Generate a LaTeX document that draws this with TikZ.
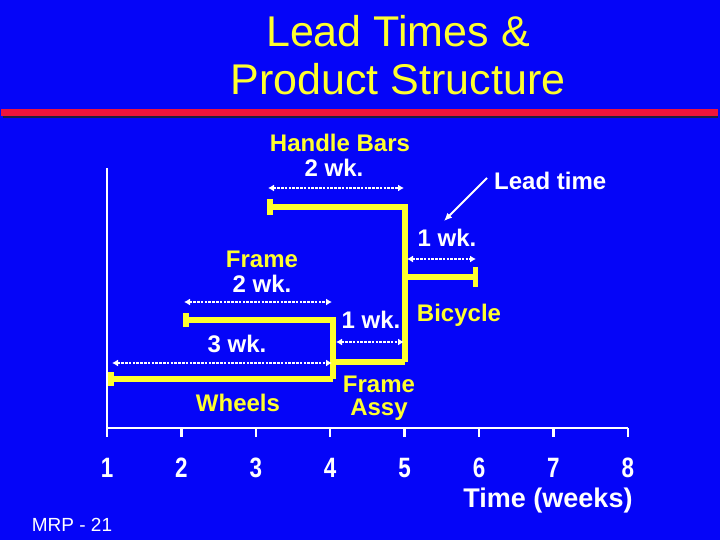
\documentclass[tikz,border=0pt]{standalone}
\usepackage{fontspec}
\setmainfont{Liberation Sans}
\newfontfamily\numfont[FakeStretch=0.8]{Liberation Sans}
\usepackage{tikz}
\usetikzlibrary{arrows.meta, positioning, calc}
\usepackage{xcolor}
\definecolor{SlideBlue}{HTML}{0505F8}
\definecolor{SlideYellow}{HTML}{FFFF2E}
\definecolor{SlideRed}{HTML}{F0143C}
\definecolor{ShadowGrey}{HTML}{202040}
\tikzset{
  % Slide title
  titletext/.style={
    text=SlideYellow, inner sep=0pt,
    font=\fontsize{43}{49}\selectfont
  },
  % Item name (yellow)
  partlabel/.style={
    text=SlideYellow, inner sep=0pt,
    font=\fontsize{24}{26}\selectfont\bfseries
  },
  % Lead time text (white)
  timelabel/.style={
    text=white, inner sep=0pt,
    font=\fontsize{24}{26}\selectfont\bfseries
  },
  % Product structure line
  leadbar/.style={
    draw=SlideYellow, line width=5.5pt, line join=miter
  },
  % Lead time span
  leadarrow/.style={
    draw=white, line width=2pt,
    dash pattern=on 2.5pt off 1.3pt,
    {Latex[length=6pt,width=7pt]}-{Latex[length=6pt,width=7pt]}
  },
  % Time axis
  axisline/.style={
    draw=white, line width=2.5pt
  },
  weeknum/.style={
    text=white, inner sep=0pt,
    font=\fontsize{28}{30}\selectfont\numfont\bfseries
  }
}
\begin{document}
\begin{tikzpicture}[x=1pt, y=-1pt]

\fill[SlideBlue] (0,0) rectangle (720,540);
\useasboundingbox (0,0) rectangle (720,540);

% title and red rule
\node[titletext, anchor=base] (title_a) at (398,47) {Lead Times \&};
\node[titletext, anchor=base] (title_b) at (398,95) {Product Structure};
\coordinate (rule_l) at (1,113);
\coordinate (rule_r) at (718,113);
\draw[ShadowGrey, line width=7pt] ($(rule_l)+(2,2)$) -- ($(rule_r)+(0,2)$);
\draw[SlideRed, line width=7pt] (rule_l) -- (rule_r);

% time axis
\coordinate (ax_top)    at (107,168);
\coordinate (ax_origin) at (107,428);
\coordinate (ax_end)    at (628,428);
\draw[axisline] (ax_top) -- (ax_origin) -- (ax_end);
\foreach \wk in {1,...,8} {
  \coordinate (tick_\wk) at ({107+(\wk-1)*74.4},428);
  \draw[axisline] (tick_\wk) -- ++(0,9);
  \node[weeknum, anchor=base] (wk_\wk) at ({107+(\wk-1)*74.4},477) {\wk};
}
\node[text=white, inner sep=0pt, anchor=base,
      font=\fontsize{27}{30}\selectfont\bfseries] (time_lbl) at (548,507)
  {Time (weeks)};
\node[text=white, inner sep=0pt, anchor=base,
      font=\fontsize{19}{21}\selectfont] (slide_no) at (72,531) {MRP - 21};

% product structure points
\coordinate (hb_start)  at (267,207);
\coordinate (hb_corner) at (405,207);
\coordinate (fa_start)  at (333,362);
\coordinate (fa_end)    at (405,362);
\coordinate (bi_start)  at (405,277);
\coordinate (bi_end)    at (478,277);
\coordinate (fr_start)  at (183,320);
\coordinate (fr_corner) at (333,320);
\coordinate (wh_start)  at (108,379);
\coordinate (wh_end)    at (333,379);

\draw[leadbar, {Bar[width=16pt]}-] (hb_start) -- (hb_corner) -- (fa_end);
\draw[leadbar, -{Bar[width=20pt]}] (bi_start) -- (bi_end);
\draw[leadbar, {Bar[width=14pt]}-] (fr_start) -- (fr_corner) -- (wh_end);
\draw[leadbar] (fa_start) -- (fa_end);
\draw[leadbar, {Bar[width=14pt]}-] (wh_start) -- (wh_end);

% lead time spans
\coordinate (hb_span_l) at (268,188);
\coordinate (hb_span_r) at (404,188);
\coordinate (bi_span_l) at (407,259);
\coordinate (bi_span_r) at (476,259);
\coordinate (fr_span_l) at (184,302);
\coordinate (fr_span_r) at (332,302);
\coordinate (fa_span_l) at (336,342);
\coordinate (fa_span_r) at (404,342);
\coordinate (wh_span_l) at (112,363);
\coordinate (wh_span_r) at (332,363);
\draw[leadarrow] (hb_span_l) -- (hb_span_r);
\draw[leadarrow] (bi_span_l) -- (bi_span_r);
\draw[leadarrow] (fr_span_l) -- (fr_span_r);
\draw[leadarrow] (fa_span_l) -- (fa_span_r);
\draw[leadarrow] (wh_span_l) -- (wh_span_r);

% labels
\node[partlabel, anchor=base] (hb_name) at (340,152) {Handle Bars};
\node[timelabel, anchor=base] (hb_time) at (334,177) {2 wk.};
\node[timelabel, anchor=base] (bi_time) at (447,247) {1 wk.};
\node[partlabel, anchor=base] (bi_name) at (459,321) {Bicycle};
\node[partlabel, anchor=base] (fr_name) at (262,267) {Frame};
\node[timelabel, anchor=base] (fr_time) at (262,292) {2 wk.};
\node[timelabel, anchor=base] (fa_time) at (371,328) {1 wk.};
\node[timelabel, anchor=base] (wh_time) at (237,352) {3 wk.};
\node[partlabel, anchor=base] (wh_name) at (238,411) {Wheels};
\node[partlabel, anchor=base] (fa_name) at (379,392) {Frame};
\node[partlabel, anchor=base] (fa_name2) at (379,415) {Assy};

% lead time pointer
\node[timelabel, anchor=base west] (lt_note) at (494,190) {Lead time};
\coordinate (lt_from) at (487,178);
\coordinate (lt_to)   at (444,221);
\draw[white, line width=1.8pt, -{Latex[length=8pt,width=7pt]}]
  (lt_from) -- (lt_to);

\end{tikzpicture}
\end{document}
